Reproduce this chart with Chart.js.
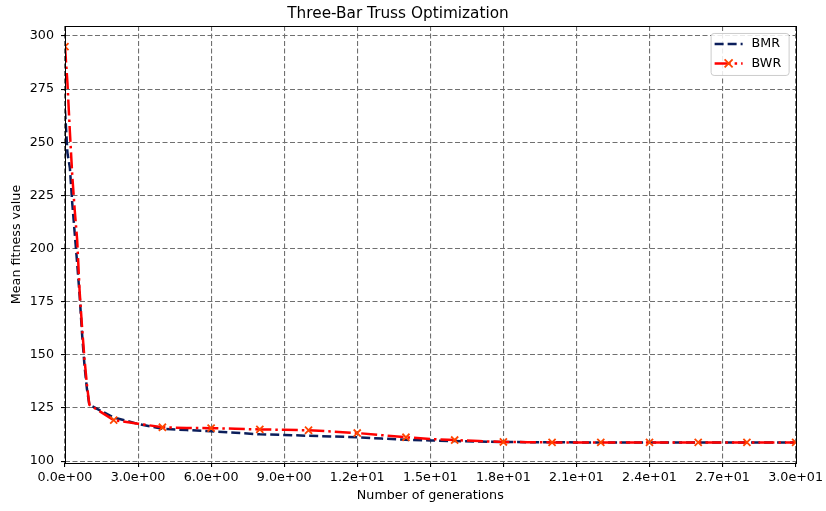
<!DOCTYPE html>
<html>
<head>
<meta charset="utf-8">
<script src="https://cdn.jsdelivr.net/npm/chart.js@4.4.1/dist/chart.umd.min.js"></script>
<style>
  body { margin: 0; background: #fff; }
  #wrap { width: 826px; height: 511px; }
</style>
</head>
<body>
<div id="wrap"><canvas id="graph"></canvas></div>
<script>
// generations (finer steps inside the first generation)
const generations = [0, 0.1, 0.2, 0.3, 0.4, 0.5, 0.6, 0.7, 0.8, 0.9,
  1, 2, 3, 4, 5, 6, 7, 8, 9, 10, 11, 12, 13, 14, 15,
  16, 17, 18, 19, 20, 21, 22, 23, 24, 25, 26, 27, 28, 29, 30];

const bmrValues = [265, 245, 238, 221, 207, 193, 178, 160, 145, 134,
  126.5, 120.5, 117.5, 115.2, 114.6, 114.0, 113.3, 112.6, 112.3, 111.9, 111.6, 111.2, 110.6, 110.0, 109.7,
  109.4, 109.2, 109.0, 108.9, 108.9, 108.8, 108.8, 108.8, 108.8, 108.8, 108.8, 108.8, 108.8, 108.8, 108.8];

const bwrValues = [295, 278, 255, 234, 218, 204, 180, 163, 148, 136,
  126.5, 119.3, 117.6, 115.9, 115.6, 115.5, 115.2, 114.9, 114.7, 114.5, 113.9, 113.2, 112.2, 111.2, 110.4,
  109.9, 109.4, 109.0, 108.9, 108.8, 108.8, 108.8, 108.8, 108.8, 108.8, 108.8, 108.8, 108.8, 108.8, 108.8];

const xTicks = [0, 3, 6, 9, 12, 15, 18, 21, 24, 27, 30];
const yTicks = [100, 125, 150, 175, 200, 225, 250, 275, 300];

const BMR_COLOR = "#0b1e5b";
const BWR_COLOR = "#ff0000";
const MARK_COLOR = "#ff4500";
const GRID_COLOR = "#707070";

Chart.defaults.font.family = "'DejaVu Sans', sans-serif";
Chart.defaults.color = "#000";

function sciLabel(v) {
  const parts = Number(v).toExponential(1).split("e");
  const exp = parseInt(parts[1], 10);
  return parts[0] + "e" + (exp < 0 ? "-" : "+") + String(Math.abs(exp)).padStart(2, "0");
}

const toPoints = (vals) => generations.map((g, i) => ({ x: g, y: vals[i] }));

// black frame round the plot, like the axes spines
const framePlugin = {
  id: "frame",
  afterDraw(chart) {
    const { ctx, chartArea: a } = chart;
    ctx.save();
    ctx.strokeStyle = "#000";
    ctx.lineWidth = 1;
    ctx.strokeRect(Math.round(a.left) + 0.5, Math.round(a.top) + 0.5,
      Math.round(a.right - a.left), Math.round(a.bottom - a.top));
    ctx.restore();
  },
};

// matplotlib-style legend in the upper right corner
const legendPlugin = {
  id: "mplLegend",
  afterDraw(chart) {
    const { ctx, chartArea: a } = chart;
    const w = 78, h = 42;
    const x0 = a.right - 7 - w, y0 = a.top + 7;
    ctx.save();
    ctx.beginPath();
    ctx.roundRect(x0 + 0.5, y0 + 0.5, w, h, 3);
    ctx.fillStyle = "rgba(255,255,255,0.85)";
    ctx.fill();
    ctx.strokeStyle = "#cccccc";
    ctx.lineWidth = 1;
    ctx.stroke();

    const items = [
      { label: "BMR", color: BMR_COLOR, dash: [9, 4], mark: false },
      { label: "BWR", color: BWR_COLOR, dash: [16, 4, 2.5, 4], mark: true },
    ];
    items.forEach((it, i) => {
      const y = y0 + 11 + i * 19.5;
      ctx.beginPath();
      ctx.setLineDash(it.dash);
      ctx.strokeStyle = it.color;
      ctx.lineWidth = 2.5;
      ctx.moveTo(x0 + 4, y);
      ctx.lineTo(x0 + 32, y);
      ctx.stroke();
      ctx.setLineDash([]);
      if (it.mark) {
        const cx = x0 + 18, r = 4;
        ctx.beginPath();
        ctx.strokeStyle = MARK_COLOR;
        ctx.lineWidth = 1.8;
        ctx.moveTo(cx - r, y - r); ctx.lineTo(cx + r, y + r);
        ctx.moveTo(cx - r, y + r); ctx.lineTo(cx + r, y - r);
        ctx.stroke();
      }
      ctx.fillStyle = "#000";
      ctx.font = "12.7px 'DejaVu Sans'";
      ctx.textBaseline = "middle";
      ctx.fillText(it.label, x0 + 41, y);
    });
    ctx.restore();
  },
};

const data = {
  datasets: [
    {
      label: "BMR",
      data: toPoints(bmrValues),
      borderColor: BMR_COLOR,
      backgroundColor: BMR_COLOR,
      borderWidth: 2.5,
      borderDash: [9, 4],
      pointRadius: 0,
      pointHoverRadius: 0,
      order: 1,
    },
    {
      label: "BWR",
      data: toPoints(bwrValues),
      borderColor: BWR_COLOR,
      backgroundColor: BWR_COLOR,
      borderWidth: 2.5,
      borderDash: [16, 4, 2.5, 4],
      pointStyle: "crossRot",
      pointRadius: (c) => (Number.isInteger(c.raw.x) && c.raw.x % 2 === 0 ? 5 : 0),
      pointBorderColor: MARK_COLOR,
      pointBorderWidth: 1.8,
      order: 0,
    },
  ],
};

const config = {
  type: "line",
  data,
  plugins: [framePlugin, legendPlugin],
  options: {
    responsive: true,
    maintainAspectRatio: false,
    animation: false,
    layout: { padding: { left: 0, right: 30, top: 0, bottom: 0 } },
    elements: { line: { tension: 0, borderCapStyle: "butt" } },
    plugins: {
      legend: { display: false },
      tooltip: { enabled: false },
      title: {
        display: true,
        text: "Three-Bar Truss Optimization",
        font: { size: 15.3, weight: "normal" },
        color: "#000",
        padding: { top: 4.8, bottom: 2.8 },
      },
    },
    scales: {
      x: {
        type: "linear",
        min: 0,
        max: 30,
        afterFit: (s) => { s.height = 48; },
        afterBuildTicks: (s) => { s.ticks = xTicks.map((v) => ({ value: v })); },
        ticks: {
          callback: sciLabel,
          autoSkip: false,
          maxRotation: 0,
          padding: 3,
          font: { size: 12.7 },
        },
        grid: { color: GRID_COLOR, lineWidth: 1.1, tickColor: "#000", tickLength: 4 },
        border: { display: false, dash: [5, 2.5] },
        title: {
          display: true,
          text: "Number of generations",
          font: { size: 12.7 },
          padding: { top: 0, bottom: 7.4 },
        },
      },
      y: {
        type: "linear",
        min: 99.1,
        max: 304.7,
        afterFit: (s) => { s.width = 65; },
        afterBuildTicks: (s) => { s.ticks = yTicks.map((v) => ({ value: v })); },
        ticks: { padding: 7, font: { size: 12.7 } },
        grid: { color: GRID_COLOR, lineWidth: 1.1, tickColor: "#000", tickLength: 4 },
        border: { display: false, dash: [5, 2.5] },
        title: {
          display: true,
          text: "Mean fitness value",
          font: { size: 12.7 },
          padding: { top: 9.4, bottom: 0 },
        },
      },
    },
  },
};

const graph = document.getElementById("graph");
const chart = new Chart(graph, config);
</script>
</body>
</html>
